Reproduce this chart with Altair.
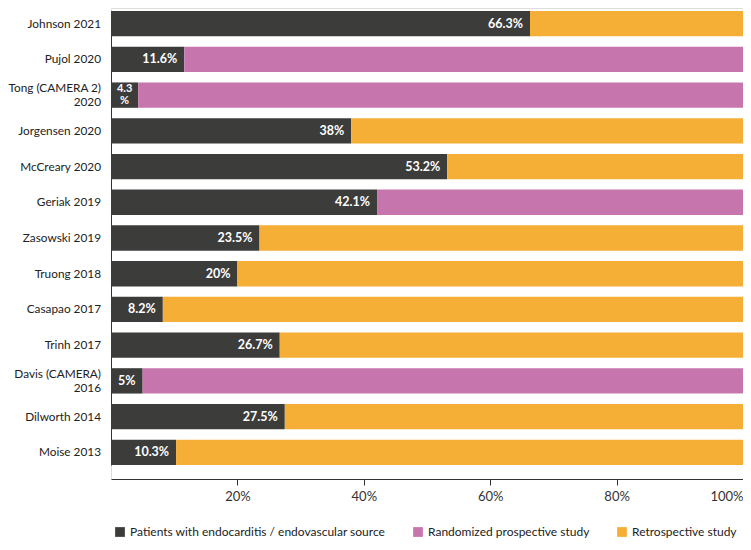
import altair as alt
import pandas as pd

studies = ["Johnson 2021", "Pujol 2020", "Tong (CAMERA 2)\n2020", "Jorgensen 2020",
           "McCreary 2020", "Geriak 2019", "Zasowski 2019", "Truong 2018",
           "Casapao 2017", "Trinh 2017", "Davis (CAMERA)\n2016", "Dilworth 2014",
           "Moise 2013"]
endo_pct = [66.3, 11.6, 4.3, 38, 53.2, 42.1, 23.5, 20, 8.2, 26.7, 5, 27.5, 10.3]
labels = ["66.3%", "11.6%", "4.3\n%", "38%", "53.2%", "42.1%", "23.5%", "20%",
          "8.2%", "26.7%", "5%", "27.5%", "10.3%"]
study_type = ["Retrospective study", "Randomized prospective study", "Randomized prospective study",
              "Retrospective study", "Retrospective study", "Randomized prospective study",
              "Retrospective study", "Retrospective study", "Retrospective study",
              "Retrospective study", "Randomized prospective study", "Retrospective study",
              "Retrospective study"]

categories = ["Patients with endocarditis / endovascular source",
              "Randomized prospective study", "Retrospective study"]
colors = ["#3c3c3b", "#c776ad", "#f5ae36"]

rows = []
for s, v, t, lab in zip(studies, endo_pct, study_type, labels):
    rows.append({"study": s, "cat": categories[0], "value": v, "ord": 0, "label": lab, "endo": v})
    rows.append({"study": s, "cat": t, "value": 100 - v, "ord": 1, "label": "", "endo": v})
df = pd.DataFrame(rows)

font = "Lato"

y_scale = alt.Scale(range=[3, 457], paddingInner=0.29, paddingOuter=0)

bars = alt.Chart(df).mark_bar().encode(
    y=alt.Y("study:N", sort=studies, title=None, scale=y_scale,
            axis=alt.Axis(ticks=False, labels=False, domainColor="#333333")),
    x=alt.X("value:Q", stack="zero", title=None,
            scale=alt.Scale(domain=[0, 100], nice=False),
            axis=alt.Axis(values=[20, 40, 60, 80, 100], labelExpr="datum.value + '%'",
                          grid=False, tickSize=6, labelPadding=5, labelFontSize=13,
                          labelFont=font, labelColor="#333333", domainColor="#333333",
                          tickColor="#333333", labelFlush=True)),
    color=alt.Color("cat:N", scale=alt.Scale(domain=categories, range=colors),
                    legend=alt.Legend(title=None, orient="none", direction="horizontal",
                                      legendX=3, legendY=518, symbolType="square",
                                      symbolSize=95, symbolStrokeWidth=0,
                                      symbolOffset=0, labelOffset=4,
                                      labelFontSize=12, labelFont=font, labelColor="#222222",
                                      columnPadding=26, labelLimit=400)),
    order=alt.Order("ord:Q"),
)

study_df = pd.DataFrame({"study": studies})

ylabels_one = alt.Chart(study_df).transform_filter(
    "indexof(datum.study, '\\n') < 0"
).mark_text(
    align="right", baseline="middle", fontSize=11.8, font=font, color="#222222", dx=-10
).encode(
    y=alt.Y("study:N", sort=studies, scale=y_scale),
    x=alt.value(0),
    text="study:N",
)

ylabels_two = alt.Chart(study_df).transform_filter(
    "indexof(datum.study, '\\n') >= 0"
).mark_text(
    align="right", baseline="middle", fontSize=11.8, font=font, color="#222222",
    lineBreak="\n", lineHeight=14, dx=-10, dy=-7
).encode(
    y=alt.Y("study:N", sort=studies, scale=y_scale),
    x=alt.value(0),
    text="study:N",
)

lab_df = df[df["ord"] == 0]

text_main = alt.Chart(lab_df).transform_filter(
    "indexof(datum.label, '\\n') < 0"
).mark_text(align="right", baseline="middle", dx=-7, color="white", fontWeight="bold",
            fontSize=12.5, font=font).encode(
    y=alt.Y("study:N", sort=studies, scale=y_scale),
    x=alt.X("endo:Q"),
    text="label:N",
)

text_small = alt.Chart(lab_df).transform_filter(
    "indexof(datum.label, '\\n') >= 0"
).transform_calculate(
    half="datum.endo / 2"
).mark_text(align="center", baseline="middle", color="white", fontWeight="bold",
            fontSize=11, font=font, lineBreak="\n", lineHeight=12, dy=-6).encode(
    y=alt.Y("study:N", sort=studies, scale=y_scale),
    x=alt.X("half:Q"),
    text="label:N",
)

chart = alt.layer(bars, ylabels_one, ylabels_two, text_main, text_small).properties(
    width=632, height=471,
    padding={"left": 103, "top": 0, "right": 0, "bottom": 63},
    autosize=alt.AutoSizeParams(type="none"),
).configure_view(stroke=None).configure(background="white")

chart.save("out.html", embed_options={"renderer": "svg", "actions": False})
